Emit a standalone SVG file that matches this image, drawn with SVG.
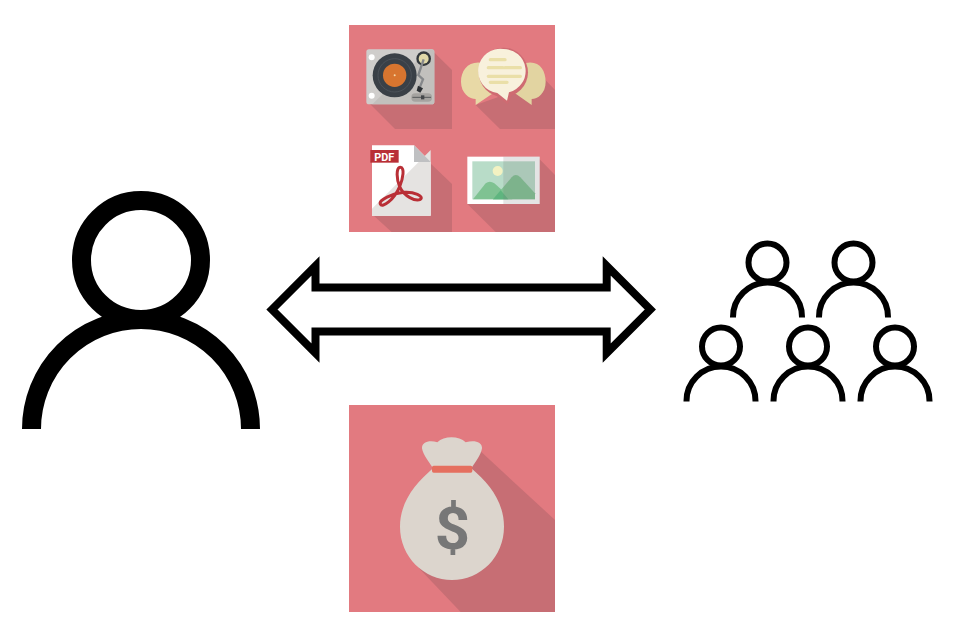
<svg xmlns="http://www.w3.org/2000/svg" width="954" height="627" viewBox="0 0 954 627">
<style>
.tile{fill:#e27a80}
.sh{fill:#c76e74}
.big{fill:none;stroke:#000;stroke-width:19}
.small{fill:none;stroke:#000;stroke-width:6}
.lbl{font-family:Roboto,"Liberation Sans",Arial,sans-serif;font-weight:700}
</style>
<defs>
<g id="p"><circle cx="0" cy="0" r="19" class="small"/><path d="M-34.5 55V54.500A34.500 34.500 0 0 1 34.500 54.500V55" class="small"/></g>
</defs>
<rect width="954" height="627" fill="#fff"/>
<g id="person-large">
<circle cx="141" cy="260" r="59.500" class="big"/>
<path d="M31.500 429A109.500 109.500 0 0 1 250.500 429" class="big"/>
</g>
<g id="people-group">
<use href="#p" x="767.500" y="262.500"/>
<use href="#p" x="853.500" y="262.500"/>
<use href="#p" x="721" y="346.500"/>
<use href="#p" x="808" y="346.500"/>
<use href="#p" x="895" y="346.500"/>
</g>
<g id="connectors">
<path d="M272 309.500L315.500 266V287.500H606.700V266L650.300 309.500L606.700 353V331.500H315.500V353Z" fill="#fff" stroke="#000" stroke-width="8" stroke-miterlimit="10"/>
</g>
<g id="media-tile">
<rect class="tile" x="349" y="25" width="206" height="207"/>
<g transform="translate(349 25) scale(.33333)">
<path class="sh" d="M58 232L138 312H309V135L248 75Z"/>
<path class="sh" d="M380 240L453 312H618V195L575 150L450 215Z"/>
<rect x="52" y="73" width="204" height="165" rx="8" fill="#cfcdcb"/>
<path d="M70 238L150 160L240 73H248Q256 73 256 81V230Q256 238 248 238Z" fill="#c2c0bd"/>
<circle cx="68" cy="97" r="9" fill="#fff"/><circle cx="68" cy="212" r="9" fill="#fff"/>
<circle cx="137" cy="151" r="66" fill="#3a4047"/>
<circle cx="137" cy="151" r="50" fill="none" stroke="#4b5158" stroke-width="3"/>
<circle cx="137" cy="151" r="35" fill="#d8752f"/>
<circle cx="137" cy="151" r="3" fill="#f5d9a8"/>
<circle cx="224" cy="101" r="22" fill="#33383c"/><circle cx="224" cy="101" r="15" fill="#e0d8a8"/>
<path d="M224 103L208 150L222 163L212 188" fill="none" stroke="#85878a" stroke-width="7"/>
<path d="M207 182L222 190L214 203L203 197Z" fill="#2c3034"/>
<rect x="187" y="205" width="62" height="25" rx="12" fill="#a5a3a0"/>
<path d="M190 217H246" stroke="#55585a" stroke-width="3"/><rect x="216" y="211" width="10" height="12" fill="#44474a"/>
<path d="M402 114C360 105 336 135 336 170C336 205 362 222 380 222V240L432 205L395 150Z" fill="#e8d9a6"/>
<path d="M530 114C570 105 590 135 590 170C590 205 566 222 548 222V240L498 205L535 150Z" fill="#e2d4a1"/>
<circle cx="463" cy="142" r="74" fill="#cf6b72"/>
<path d="M436 208L476 238L490 204Z" fill="#cf6b72"/>
<path d="M463 72A66 66 0 0 1 480 202L474 227L445 204A66 66 0 0 1 463 72Z" fill="#f8f1dc"/>
<path d="M424 104H468M418 128H462M468 128H514M418 154H514M424 172H474" stroke="#eadfa8" stroke-width="10" stroke-linecap="round" fill="none"/>
</g>
<g transform="translate(349 130) scale(.33333)">
<path class="sh" d="M240 96L309 162V306H128L72 255Z"/>
<path class="sh" d="M355 222L440 306H618V135L572 88Z"/>
<path d="M69 46H195L245 96V257H69Z" fill="#fff"/>
<path d="M69 236L245 60V257H69Z" fill="#e5e3e1"/>
<path d="M195 46L245 96H195Z" fill="#bfc0c2"/>
<rect x="64" y="60" width="85" height="38" fill="#b92f36"/>
<text x="106" y="93" class="lbl" font-size="35" fill="#fff" text-anchor="middle" textLength="60" lengthAdjust="spacingAndGlyphs">PDF</text>
<path d="M154 112C140 112 143 150 152 170C165 200 200 215 214 208C226 198 195 185 165 187C130 190 88 210 94 222C100 235 135 210 152 170C162 145 168 112 154 112Z" fill="none" stroke="#b92f36" stroke-width="9"/>
<rect x="355" y="80" width="217" height="142" fill="#fff"/>
<rect x="370" y="94" width="188" height="114" fill="#b8dcc8"/>
<circle cx="446" cy="123" r="15" fill="#f3f2c2"/>
<path d="M372 208L410 160Q422 150 436 160L490 208Z" fill="#7fc292"/>
<path d="M432 208L488 142Q500 128 514 142L558 190V208Z" fill="#7fc292"/>
<path d="M432 208L455 181L478 208Z" fill="#5fb57f"/>
<rect x="463" y="80" width="109" height="142" fill="#7a7a7a" fill-opacity=".2"/>
</g>
</g>
<g id="money-tile">
<rect class="tile" x="349" y="405" width="206" height="207"/>
<g transform="translate(349 405) scale(.33333)">
<path class="sh" d="M385 130L618 345V621H335L210 490Z"/>
<path d="M252 190C240 170 222 150 219 130C218 112 240 104 265 112C285 92 330 92 350 112C378 104 400 112 399 130C396 150 380 170 367 190C420 235 465 290 465 365C465 455 395 525 309 525C225 525 153 455 153 365C153 290 200 235 252 190Z" fill="#dcd5cd"/>
<rect x="249" y="182" width="121" height="21" rx="5" fill="#e56f5f"/>
<text x="310" y="432" class="lbl" font-size="180" fill="#777" text-anchor="middle" textLength="106" lengthAdjust="spacingAndGlyphs">$</text>
</g>
</g>
</svg>
